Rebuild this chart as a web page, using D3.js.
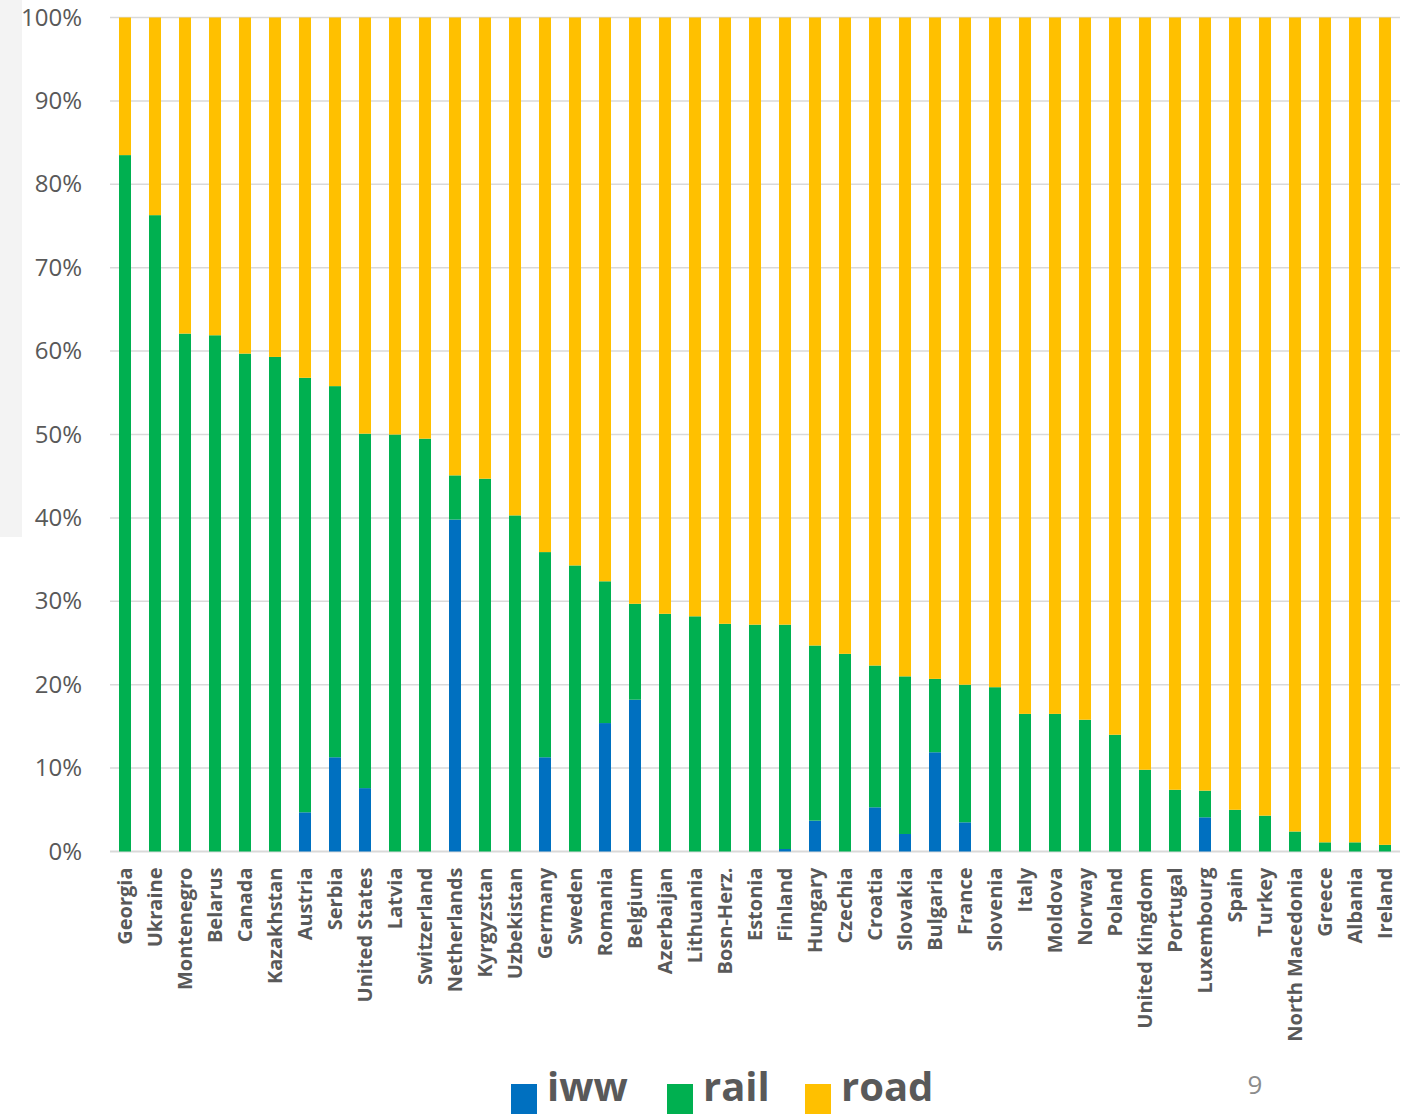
<!DOCTYPE html>
<html>
<head>
<meta charset="utf-8">
<script src="https://cdn.jsdelivr.net/npm/d3@7"></script>
<style>
html,body{margin:0;padding:0;background:#fff;}
svg{display:block;}
</style>
</head>
<body>
<script>
const countries = ["Georgia","Ukraine","Montenegro","Belarus","Canada","Kazakhstan","Austria","Serbia","United States","Latvia","Switzerland","Netherlands","Kyrgyzstan","Uzbekistan","Germany","Sweden","Romania","Belgium","Azerbaijan","Lithuania","Bosn-Herz.","Estonia","Finland","Hungary","Czechia","Croatia","Slovakia","Bulgaria","France","Slovenia","Italy","Moldova","Norway","Poland","United Kingdom","Portugal","Luxembourg","Spain","Turkey","North Macedonia","Greece","Albania","Ireland"];
// shares in percent
const iww = [0,0,0,0,0,0,4.7,11.3,7.6,0,0,39.8,0,0,11.3,0,15.4,18.2,0,0,0,0,0.3,3.7,0,5.3,2.1,11.9,3.5,0,0,0,0,0,0,0,4.1,0,0,0,0,0,0];
const rail = [83.5,76.3,62.1,61.9,59.7,59.3,52.1,44.5,42.5,50.0,49.5,5.3,44.7,40.3,24.6,34.3,17.0,11.5,28.5,28.2,27.3,27.2,26.9,21.0,23.7,17.0,18.9,8.8,16.5,19.7,16.5,16.5,15.8,14.0,9.8,7.4,3.2,5.0,4.3,2.4,1.1,1.1,0.8];
const road = countries.map((c,i)=> +(100 - iww[i] - rail[i]).toFixed(1));
const yTicks = [0,10,20,30,40,50,60,70,80,90,100];
const seriesKeys = ["iww","rail","road"];
const seriesColors = ["#0070C0","#00B050","#FFC000"];

const W = 1409, H = 1114;
const svg = d3.select("body").append("svg").attr("width",W).attr("height",H);

// light grey side panel
svg.append("rect").attr("x",0).attr("y",0).attr("width",22).attr("height",537).attr("fill","#f3f3f3");

const x = d3.scaleBand().domain(countries).range([110,1400]).paddingInner(0.6).paddingOuter(0.3);
const y = d3.scaleLinear().domain([0,100]).range([851.5,17.5]);

// gridlines
svg.append("g").selectAll("line").data(yTicks).join("line")
  .attr("x1",110).attr("x2",1400)
  .attr("y1",d=>y(d)).attr("y2",d=>y(d))
  .attr("stroke","#d9d9d9").attr("stroke-width",d=>d===0?2:1.5);

// y axis labels
const yAxis = d3.axisLeft(y).tickValues(yTicks).tickFormat(d=>d+"%").tickSize(0).tickPadding(0);
const ya = svg.append("g").attr("transform","translate(82,0)").call(yAxis);
ya.select(".domain").remove();
ya.selectAll("text").attr("font-family","'Open Sans', sans-serif").attr("font-size",24).attr("fill","#595959");

// stacked data
const table = countries.map((c,i)=>({country:c, iww:iww[i], rail:rail[i], road:road[i]}));
const stack = d3.stack().keys(seriesKeys)(table);
const color = d3.scaleOrdinal().domain(seriesKeys).range(seriesColors);

svg.append("g").selectAll("g").data(stack).join("g")
  .attr("fill",d=>color(d.key))
  .selectAll("rect").data(d=>d).join("rect")
  .attr("x",d=>x(d.data.country))
  .attr("width",x.bandwidth())
  .attr("y",d=>y(d[1]))
  .attr("height",d=>Math.max(0,y(d[0])-y(d[1])));

// x axis labels
const xAxis = d3.axisBottom(x).tickSize(0).tickPadding(0);
const xa = svg.append("g").attr("transform","translate(0,851.5)").call(xAxis);
xa.select(".domain").remove();
xa.selectAll("text")
  .attr("font-family","'Open Sans', sans-serif").attr("font-size",20).attr("font-weight",700).attr("fill","#595959")
  .attr("transform","rotate(-90)")
  .attr("text-anchor","end")
  .attr("x",-16).attr("y",0).attr("dy","0.36em");

// legend
const legendX = [511,667,805];
const lg = svg.append("g");
seriesKeys.forEach((k,i)=>{
  lg.append("rect").attr("x",legendX[i]).attr("y",1084).attr("width",26).attr("height",30).attr("fill",seriesColors[i]);
  lg.append("text").attr("x",legendX[i]+36).attr("y",1101).text(k)
    .attr("font-family","'Open Sans', sans-serif").attr("font-size",40).attr("font-weight",700).attr("fill","#595959");
});

// page number
svg.append("text").attr("x",1255).attr("y",1094).attr("text-anchor","middle").text("9")
  .attr("font-family","'Open Sans', sans-serif").attr("font-size",26).attr("fill","#8c8c8c");
</script>
</body>
</html>
